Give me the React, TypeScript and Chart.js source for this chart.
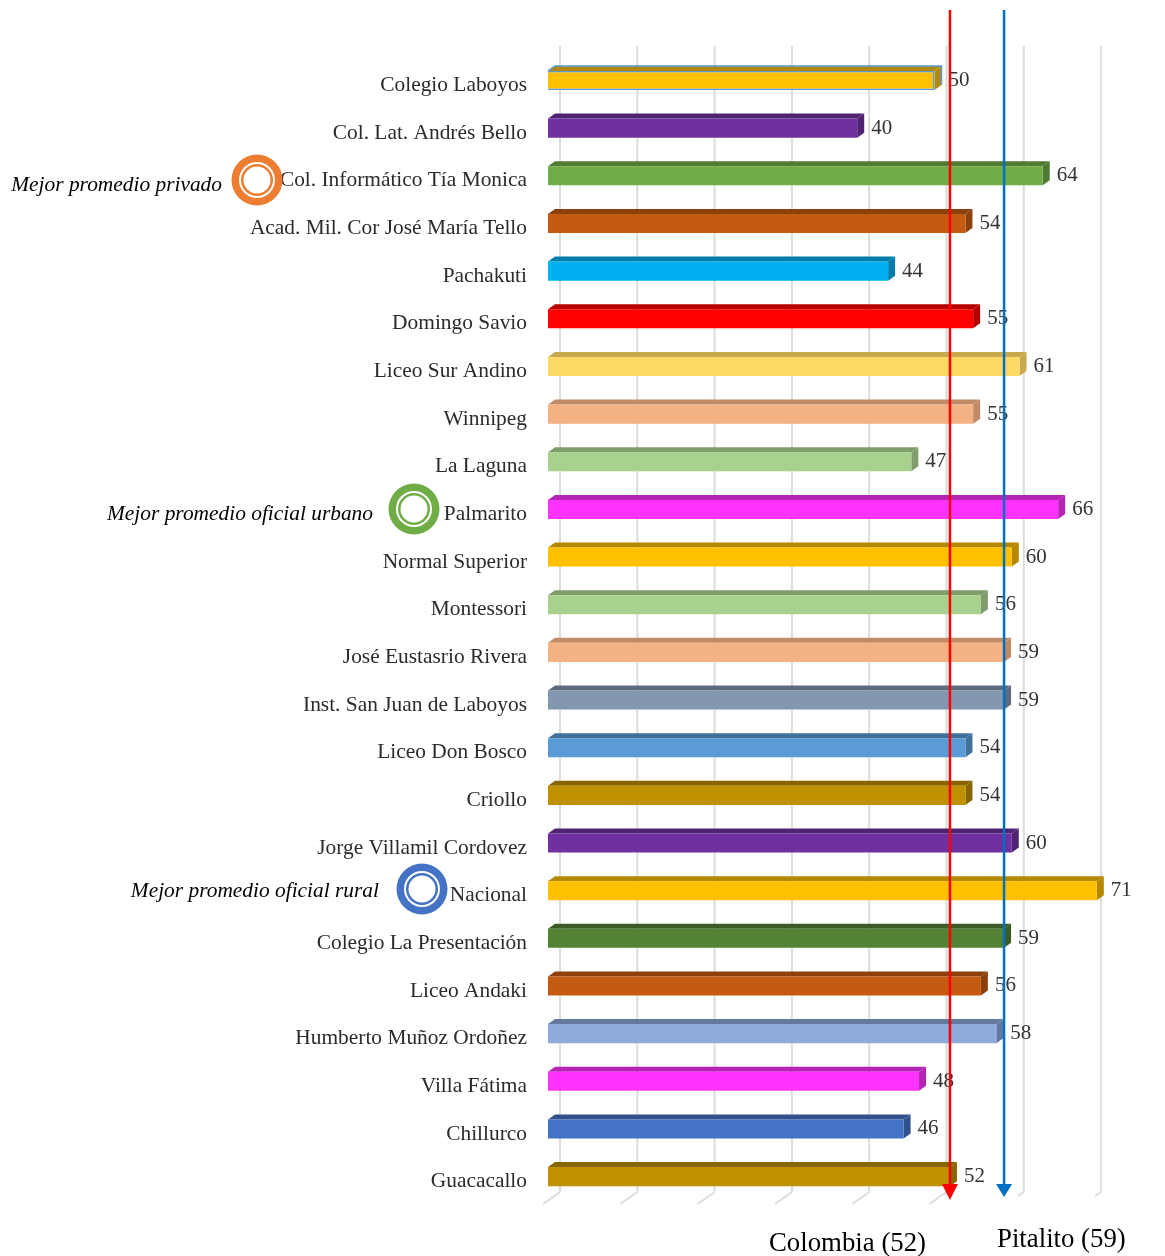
import React, { useEffect, useRef } from "react";
import { Chart, registerables } from "chart.js";

Chart.register(...registerables);

const categories = ["Colegio Laboyos","Col. Lat. Andrés Bello","Col. Informático Tía Monica","Acad. Mil. Cor José María Tello","Pachakuti","Domingo Savio","Liceo Sur Andino","Winnipeg","La Laguna","Palmarito","Normal Superior","Montessori","José Eustasrio Rivera","Inst. San Juan de Laboyos","Liceo Don Bosco","Criollo","Jorge Villamil Cordovez","Nacional","Colegio La Presentación","Liceo Andaki","Humberto Muñoz Ordoñez","Villa Fátima","Chillurco","Guacacallo"];
const values = [50,40,64,54,44,55,61,55,47,66,60,56,59,59,54,54,60,71,59,56,58,48,46,52];
const barColors = ["#FFC000","#7030A0","#70AD47","#C55A11","#00B0F0","#FF0000","#FFD966","#F4B183","#A9D18E","#FF33FF","#FFC000","#A9D18E","#F4B183","#8497B0","#5B9BD5","#BF9000","#7030A0","#FFC000","#548235","#C55A11","#8FAADC","#FF33FF","#4472C4","#BF9000"];
const topColors = ["#B08A10","#4F2272","#507B33","#8C400C","#007DAB","#B50000","#C9A94F","#C08B66","#7F9E6B","#B524B5","#B58800","#7F9E6B","#C08B66","#5E6B7D","#41709A","#876600","#4F2272","#B58800","#3B5C25","#8C400C","#6579A0","#B524B5","#30518C","#876600"];
const referenceLines = [
  { name: "Colombia (52)", value: 52, color: "#FF0000", tip: 1200, textX: 769, textY: 1244 },
  { name: "Pitalito (59)", value: 59, color: "#0070C0", tip: 1197, textX: 997, textY: 1240 },
];
const callouts = [
  { text: "Mejor promedio privado", category: "Col. Informático Tía Monica", color: "#ED7D31", cx: 257, cy: 180, textRight: 222, textY: 185 },
  { text: "Mejor promedio oficial urbano", category: "Palmarito", color: "#70AD47", cx: 414, cy: 509, textRight: 373, textY: 514 },
  { text: "Mejor promedio oficial rural", category: "Nacional", color: "#4472C4", cx: 422, cy: 889, textRight: 379, textY: 891 },
];

const SERIF = '"Liberation Serif", serif';
const DX = 7;
const DY = 5;

const depthPlugin = {
  id: "depth",
  beforeDatasetsDraw(chart: any) {
    const { ctx } = chart;
    const x = chart.scales.x;
    const { top } = chart.chartArea;
    ctx.save();
    // back wall grid + floor
    ctx.strokeStyle = "#DCDCDC";
    ctx.lineWidth = 2;
    x.ticks.forEach((t: any) => {
      const px = x.getPixelForValue(t.value);
      const back = px + 12;
      ctx.beginPath();
      ctx.moveTo(back, top - 11);
      ctx.lineTo(back, 1192);
      ctx.stroke();
      const short = t.value >= 60;
      ctx.beginPath();
      ctx.moveTo(back, 1192);
      ctx.lineTo(back - (short ? 6 : 17), 1192 + (short ? 4 : 12));
      ctx.stroke();
    });
    const meta = chart.getDatasetMeta(0);
    meta.data.forEach((bar: any, i: number) => {
      const h = bar.height;
      const y0 = bar.y - h / 2;
      const xs = bar.base;
      const xe = bar.x;
      ctx.fillStyle = topColors[i];
      ctx.beginPath();
      ctx.moveTo(xs, y0);
      ctx.lineTo(xs + DX, y0 - DY);
      ctx.lineTo(xe + DX, y0 - DY);
      ctx.lineTo(xe, y0);
      ctx.closePath();
      ctx.fill();
      ctx.beginPath();
      ctx.moveTo(xe, y0);
      ctx.lineTo(xe + DX, y0 - DY);
      ctx.lineTo(xe + DX, y0 + h - DY);
      ctx.lineTo(xe, y0 + h);
      ctx.closePath();
      ctx.fill();
    });
    // first bar has a blue outline in the source
    const b = meta.data[0];
    ctx.strokeStyle = "#5B9BD5";
    ctx.lineWidth = 1.5;
    ctx.beginPath();
    ctx.moveTo(b.base, b.y - b.height / 2);
    ctx.lineTo(b.base + DX, b.y - b.height / 2 - DY);
    ctx.lineTo(b.x + DX, b.y - b.height / 2 - DY);
    ctx.lineTo(b.x + DX, b.y + b.height / 2 - DY);
    ctx.stroke();
    ctx.restore();
  },
  afterDatasetsDraw(chart: any) {
    const { ctx } = chart;
    const x = chart.scales.x;
    const meta = chart.getDatasetMeta(0);
    ctx.save();
    ctx.font = `21px ${SERIF}`;
    ctx.fillStyle = "#333333";
    ctx.textBaseline = "middle";
    ctx.textAlign = "left";
    meta.data.forEach((bar: any, i: number) => {
      ctx.fillText(String(values[i]), bar.x + 14, bar.y);
    });
    // reference arrows
    referenceLines.forEach((r) => {
      const px = x.getPixelForValue(r.value);
      ctx.strokeStyle = r.color;
      ctx.fillStyle = r.color;
      ctx.lineWidth = 2.5;
      ctx.beginPath();
      ctx.moveTo(px, 10);
      ctx.lineTo(px, 1186);
      ctx.stroke();
      ctx.beginPath();
      ctx.moveTo(px - 8, 1184);
      ctx.lineTo(px + 8, 1184);
      ctx.lineTo(px, r.tip);
      ctx.closePath();
      ctx.fill();
      ctx.font = `26.8px ${SERIF}`;
      ctx.fillStyle = "#000000";
      ctx.fillText(r.name, r.textX, r.textY);
    });
    // callouts
    callouts.forEach((c) => {
      const rings: [number, string][] = [[25.5, c.color], [18, "#FFFFFF"], [16, c.color], [13.5, "#FFFFFF"]];
      rings.forEach(([rad, col]) => {
        ctx.fillStyle = col;
        ctx.beginPath();
        ctx.arc(c.cx, c.cy, rad, 0, Math.PI * 2);
        ctx.fill();
      });
      ctx.font = `italic 21.4px ${SERIF}`;
      ctx.fillStyle = "#000000";
      ctx.textAlign = "right";
      ctx.fillText(c.text, c.textRight, c.textY);
      ctx.textAlign = "left";
    });
    ctx.restore();
  },
};

export default function App() {
  const ref = useRef<HTMLCanvasElement>(null);
  useEffect(() => {
    const chart = new Chart(ref.current!, {
      type: "bar",
      plugins: [depthPlugin],
      data: {
        labels: categories,
        datasets: [{
          data: values,
          backgroundColor: barColors,
          borderColor: barColors.map((c, i) => (i === 0 ? "#5B9BD5" : c)),
          borderWidth: barColors.map((_, i) => (i === 0 ? 1.5 : 0)),
          barPercentage: 0.4,
          categoryPercentage: 1,
        }],
      },
      options: {
        indexAxis: "y",
        responsive: false,
        animation: false,
        layout: { padding: { left: 0, right: 37.25, top: 56.67, bottom: 55.57 } },
        plugins: { legend: { display: false }, tooltip: { enabled: false } },
        scales: {
          x: {
            min: 0,
            max: 75,
            display: true,
            afterFit(scale: any) { scale.height = 0; },
            border: { display: false },
            grid: { display: false },
            ticks: { display: false, stepSize: 10, includeBounds: false },
          },
          y: {
            afterFit(scale: any) { scale.width = 548; },
            border: { display: false },
            grid: { display: false },
            ticks: {
              autoSkip: false,
              padding: 13,
              labelOffset: 5,
              color: "#2B2B2B",
              font: { family: "Liberation Serif", size: 21.4 },
            },
          },
        },
      },
    } as any);
    return () => chart.destroy();
  }, []);
  return (
    <div style={{ position: "absolute", left: 0, top: 0, width: 1165, height: 1256, background: "#fff" }}>
      <canvas ref={ref} width={1165} height={1256} style={{ display: "block" }} />
    </div>
  );
}
